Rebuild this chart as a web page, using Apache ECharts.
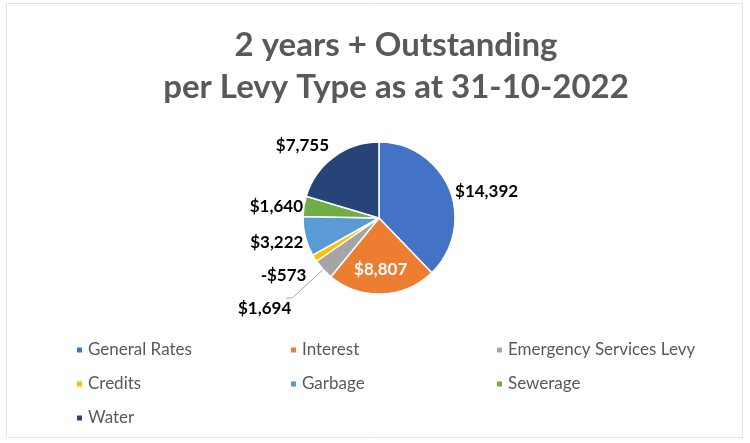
<!DOCTYPE html>
<html>
<head>
<meta charset="utf-8">
<script src="https://cdn.jsdelivr.net/npm/echarts@6/dist/echarts.min.js"></script>
<style>
  html, body { margin: 0; padding: 0; background: #ffffff; }
  #chart { width: 750px; height: 443px; }
</style>
</head>
<body>
<div id="chart"></div>
<script>
// Outstanding amounts (2 years +) per levy type
const levyTypes = ['General Rates', 'Interest', 'Emergency Services Levy', 'Credits', 'Garbage', 'Sewerage', 'Water'];
const amounts = [14392, 8807, 1694, -573, 3222, 1640, 7755];
const sliceColors = ['#4472C4', '#ED7D31', '#A5A5A5', '#FFC000', '#5B9BD5', '#70AD47', '#264478'];

// legend columns (three per row, filled row by row)
const legendCols = [[], [], []];
levyTypes.forEach((name, i) => legendCols[i % 3].push(name));

// small nudges for the value labels around the pie
const labelNudge = {
  'General Rates': [-7, 4],
  'Interest': [0, 11],
  'Emergency Services Levy': [10, 11],
  'Credits': [4, 14],
  'Garbage': [11, 5],
  'Sewerage': [12, 1],
  'Water': [6, -7]
};

function money(v) {
  const s = '$' + Math.abs(v).toLocaleString('en-US');
  return v < 0 ? '-' + s : s;
}

const pieData = levyTypes.map((name, i) => {
  const item = {
    name: name,
    value: Math.abs(amounts[i]),   // a negative amount is drawn by its size
    raw: amounts[i],
    itemStyle: { color: sliceColors[i] }
  };
  if (name === 'Interest') {
    item.label = { position: 'inside', color: '#ffffff' };
  }
  if (name === 'Emergency Services Levy') {
    item.labelLine = { show: true, length: 42, length2: 6 };
  }
  return item;
});

const chart = echarts.init(document.getElementById('chart'));
chart.setOption({
  backgroundColor: '#ffffff',
  animation: false,
  textStyle: { fontFamily: 'Lato' },
  title: {
    text: '2 years + Outstanding\nper Levy Type as at 31-10-2022',
    left: 391, top: 19, textAlign: 'center',
    textStyle: { fontFamily: 'Lato', fontWeight: 'bold', fontSize: 33, lineHeight: 42, color: '#595959' }
  },
  legend: legendCols.map((col, c) => ({
    data: col,
    orient: 'vertical',
    left: [70, 284, 490][c],
    top: 335,
    itemGap: 14,
    itemWidth: 7, itemHeight: 7,
    icon: 'rect',
    selectedMode: false,
    textStyle: { fontFamily: 'Lato', fontSize: 17, lineHeight: 20, color: '#595959' }
  })),
  graphic: [{
    type: 'rect',
    shape: { x: 6.5, y: 3.5, width: 736, height: 434 },
    style: { fill: 'none', stroke: '#e4e4e4', lineWidth: 1 },
    silent: true
  }],
  series: [{
    type: 'pie',
    center: [379, 218],
    radius: 76,
    startAngle: 90,
    clockwise: true,
    avoidLabelOverlap: false,
    itemStyle: { borderColor: '#ffffff', borderWidth: 1.5 },
    label: {
      show: true,
      position: 'outside',
      fontFamily: 'Lato',
      fontWeight: 'bold',
      fontSize: 17,
      color: '#000000',
      formatter: p => money(p.data.raw)
    },
    labelLine: { show: false, length: 6, length2: 2, lineStyle: { color: '#a6a6a6', width: 1 } },
    labelLayout: p => {
      const n = labelNudge[levyTypes[p.dataIndex]];
      return { dx: n[0], dy: n[1] };
    },
    data: pieData
  }]
});
</script>
</body>
</html>
